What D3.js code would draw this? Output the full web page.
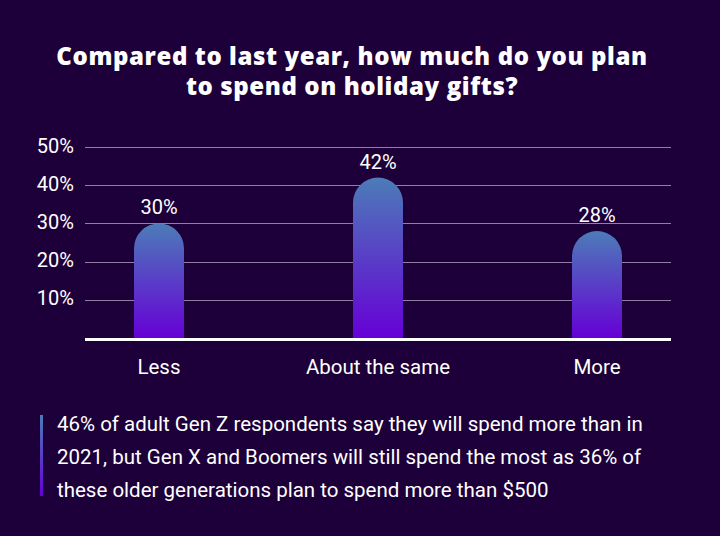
<!DOCTYPE html>
<html>
<head>
<meta charset="utf-8">
<script src="https://cdn.jsdelivr.net/npm/d3@7"></script>
<style>
  html, body { margin: 0; padding: 0; background: #1d0039; }
  svg { display: block; }
</style>
</head>
<body>
<svg width="720" height="536"></svg>
<script>
const categories = ["Less", "About the same", "More"];
const values = [30, 42, 28];
const yTicks = [10, 20, 30, 40, 50];
const titleLines = ["Compared to last year, how much do you plan", "to spend on holiday gifts?"];
const noteLines = [
  "46% of adult Gen Z respondents say they will spend more than in",
  "2021, but Gen X and Boomers will still spend the most as 36% of",
  "these older generations plan to spend more than $500"
];

const svg = d3.select("svg");
const W = 720, H = 536;
const bodyFont = "Roboto, sans-serif";

svg.append("rect").attr("width", W).attr("height", H).attr("fill", "#1d0039");

const defs = svg.append("defs");
const grad = defs.append("linearGradient")
  .attr("id", "barGrad").attr("x1", 0).attr("y1", 0).attr("x2", 0).attr("y2", 1);
grad.append("stop").attr("offset", "0%").attr("stop-color", "#4c7cb8");
grad.append("stop").attr("offset", "100%").attr("stop-color", "#6600d6");

// title
svg.append("text")
  .attr("text-anchor", "middle")
  .attr("fill", "#fff")
  .style("font-family", "'Open Sans', sans-serif")
  .style("font-weight", 800)
  .style("font-size", "24px")
  .style("letter-spacing", "0.6px")
  .selectAll("tspan")
  .data(titleLines)
  .join("tspan")
  .attr("x", 352)
  .attr("y", (d, i) => 65 + i * 30)
  .text(d => d);

// scales
const x0 = 85, x1 = 671;
const x = d3.scalePoint().domain(categories).range([159, 597]);
const y = d3.scaleLinear().domain([0, 50]).range([338, 147]);
const barW = 50;

// gridlines
svg.append("g")
  .selectAll("line")
  .data(yTicks)
  .join("line")
  .attr("x1", x0).attr("x2", x1)
  .attr("y1", d => Math.round(y(d)) + 0.5)
  .attr("y2", d => Math.round(y(d)) + 0.5)
  .attr("stroke", "#8f80a3")
  .attr("stroke-width", 1);

// y labels
svg.append("g")
  .selectAll("text")
  .data(yTicks)
  .join("text")
  .attr("x", 74)
  .attr("y", d => y(d) + 5.5)
  .attr("text-anchor", "end")
  .attr("fill", "#fff")
  .style("font-family", bodyFont)
  .style("font-size", "20px")
  .text(d => d + "%");

// bars with rounded tops
const r = barW / 2;
function barPath(d, i) {
  const cx = x(categories[i]);
  const left = cx - r, right = cx + r;
  const top = y(d), bottom = y(0);
  return `M${left},${bottom} L${left},${top + r} A${r},${r} 0 0 1 ${right},${top + r} L${right},${bottom} Z`;
}
svg.append("g")
  .selectAll("path")
  .data(values)
  .join("path")
  .attr("d", barPath)
  .attr("fill", "url(#barGrad)");

// value labels
svg.append("g")
  .selectAll("text")
  .data(values)
  .join("text")
  .attr("x", (d, i) => x(categories[i]))
  .attr("y", d => y(d) - 9)
  .attr("text-anchor", "middle")
  .attr("fill", "#fff")
  .style("font-family", bodyFont)
  .style("font-size", "20px")
  .text(d => d + "%");

// baseline
svg.append("line")
  .attr("x1", x0).attr("x2", x1)
  .attr("y1", 339.5).attr("y2", 339.5)
  .attr("stroke", "#fff")
  .attr("stroke-width", 3);

// category labels
svg.append("g")
  .selectAll("text")
  .data(categories)
  .join("text")
  .attr("x", d => x(d))
  .attr("y", 374)
  .attr("text-anchor", "middle")
  .attr("fill", "#fff")
  .style("font-family", bodyFont)
  .style("font-size", "20.5px")
  .text(d => d);

// note with accent bar
svg.append("rect")
  .attr("x", 40).attr("y", 415)
  .attr("width", 3).attr("height", 81)
  .attr("fill", "url(#barGrad)");

svg.append("text")
  .attr("fill", "#fff")
  .style("font-family", bodyFont)
  .style("font-size", "20.5px")
  .selectAll("tspan")
  .data(noteLines)
  .join("tspan")
  .attr("x", 57)
  .attr("y", (d, i) => 431 + i * 33)
  .text(d => d);
</script>
</body>
</html>
